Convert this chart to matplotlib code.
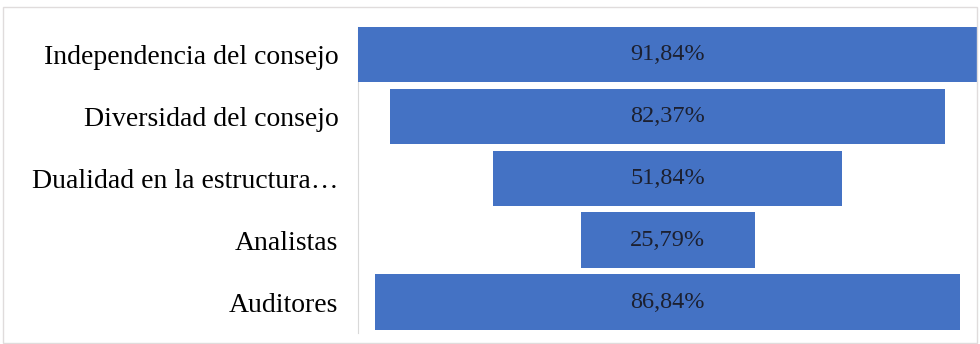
import matplotlib.pyplot as plt
from matplotlib.patches import Rectangle

categorias = ['Independencia del consejo', 'Diversidad del consejo',
              'Dualidad en la estructura…', 'Analistas', 'Auditores']
valores = [91.84, 82.37, 51.84, 25.79, 86.84]

plt.rcParams['font.family'] = ['Liberation Serif', 'DejaVu Serif']

fig = plt.figure(figsize=(9.8, 3.44), dpi=100)
ax = fig.add_axes([0.3653, 0.032, 0.632, 0.89])

y = list(range(len(valores)))
izq = [-v / 2 for v in valores]
ax.barh(y, valores, left=izq, height=0.9, color='#4472C4')

for yi, v in zip(y, valores):
    txt = f'{v:.2f}'.replace('.', ',') + '%'
    ax.text(0, yi, txt, ha='center', va='center', fontsize=17.5, color='#1c2030')

ax.set_yticks(y)
ax.set_yticklabels(categorias, fontsize=20)
ax.tick_params(axis='y', length=0, pad=14)
ax.set_xticks([])
ax.set_xlim(-max(valores) / 2, max(valores) / 2)
ax.set_ylim(len(valores) - 0.5, -0.45)

for s in ['top', 'right', 'bottom']:
    ax.spines[s].set_visible(False)
ax.spines['left'].set_color('#d9d9d9')
ax.spines['left'].set_zorder(0)

# borde de la figura
fig.patches.append(Rectangle((0.003, 0.003), 0.994, 0.978, transform=fig.transFigure,
                             fill=False, edgecolor='#e0dcdc', linewidth=1))

fig.savefig('out.png', dpi=100)
